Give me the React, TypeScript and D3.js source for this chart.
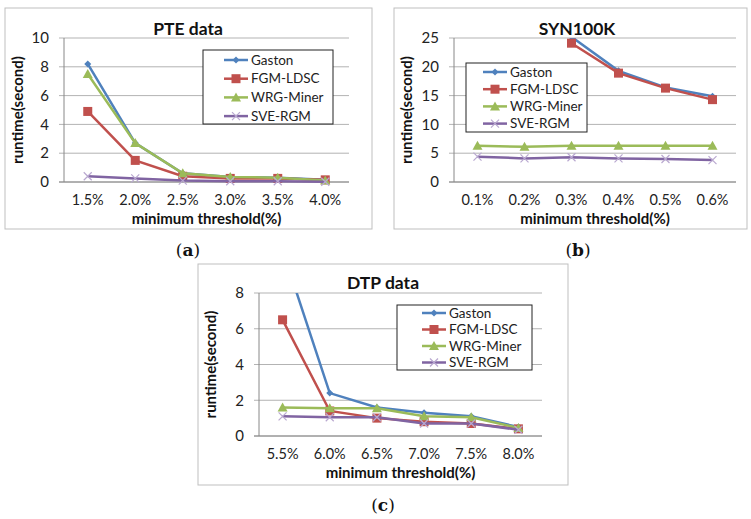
import React from "react";
import * as d3 from "d3";

const seriesNames = ["Gaston", "FGM-LDSC", "WRG-Miner", "SVE-RGM"];
const seriesColors = ["#4F81BD", "#C0504D", "#9BBB59", "#8064A2"];

const pteLabels = ["1.5%", "2.0%", "2.5%", "3.0%", "3.5%", "4.0%"];
const pteGaston = [8.2, 2.7, 0.6, 0.35, 0.3, 0.15];
const pteFgm = [4.9, 1.5, 0.4, 0.25, 0.25, 0.15];
const pteWrg = [7.5, 2.7, 0.6, 0.35, 0.3, 0.1];
const pteSve = [0.4, 0.25, 0.1, 0.05, 0.05, 0.02];
const pteTicks = [0, 2, 4, 6, 8, 10];

const synLabels = ["0.1%", "0.2%", "0.3%", "0.4%", "0.5%", "0.6%"];
const synGaston = [null, null, 25.2, 19.3, 16.4, 14.9];
const synFgm = [null, null, 24.1, 18.9, 16.3, 14.3];
const synWrg = [6.3, 6.1, 6.3, 6.3, 6.3, 6.3];
const synSve = [4.4, 4.1, 4.3, 4.1, 4.0, 3.8];
const synTicks = [0, 5, 10, 15, 20, 25];

const dtpLabels = ["5.5%", "6.0%", "6.5%", "7.0%", "7.5%", "8.0%"];
const dtpGaston = [10.4, 2.4, 1.6, 1.3, 1.1, 0.5];
const dtpFgm = [6.5, 1.4, 1.0, 0.8, 0.7, 0.4];
const dtpWrg = [1.6, 1.55, 1.55, 1.1, 1.05, 0.45];
const dtpSve = [1.1, 1.05, 1.05, 0.7, 0.7, 0.35];
const dtpTicks = [0, 2, 4, 6, 8];

const FONT = "Lato, 'Open Sans', sans-serif";

function Marker({ kind, x, y, color }) {
  if (kind === 0) {
    const s = 3.5;
    return <path d={`M${x},${y - s}L${x + s},${y}L${x},${y + s}L${x - s},${y}Z`} fill={color} />;
  }
  if (kind === 1) {
    return <rect x={x - 4.5} y={y - 4.5} width={9} height={9} fill={color} />;
  }
  if (kind === 2) {
    return <path d={`M${x},${y - 5}L${x + 5},${y + 4}L${x - 5},${y + 4}Z`} fill={color} />;
  }
  const s = 4;
  return (
    <path
      d={`M${x - s},${y - s}L${x + s},${y + s}M${x - s},${y + s}L${x + s},${y - s}`}
      stroke="#b9a8d0"
      strokeWidth={1.2}
    />
  );
}

function Panel({ id, box, plot, title, labels, series, ticks, legend }) {
  const x = d3.scalePoint().domain(labels).range([plot.left, plot.right]).padding(0.5);
  const y = d3
    .scaleLinear()
    .domain([0, ticks[ticks.length - 1]])
    .range([plot.bottom, plot.top]);
  const line = d3
    .line()
    .defined((d) => d[1] != null)
    .x((d) => x(d[0]))
    .y((d) => y(d[1]));
  const cx = (plot.left + plot.right) / 2;

  return (
    <g>
      <rect x={box.x} y={box.y} width={box.w} height={box.h} fill="#fff" stroke="#bfbfbf" strokeWidth={1} />
      <defs>
        <clipPath id={`clip-${id}`}>
          <rect x={plot.left - 6} y={plot.top} width={plot.right - plot.left + 12} height={plot.bottom - plot.top + 6} />
        </clipPath>
      </defs>
      {ticks.map((t) => (
        <g key={t}>
          <line x1={plot.left - 5} x2={plot.right} y1={y(t)} y2={y(t)} stroke="#b3b3b3" strokeWidth={1} />
          <text x={plot.left - 15} y={y(t)} dy="0.35em" textAnchor="end" fontSize={15} fill="#222" fontFamily={FONT}>
            {t}
          </text>
        </g>
      ))}
      <line x1={plot.left} x2={plot.left} y1={plot.top} y2={plot.bottom} stroke="#888" strokeWidth={1} />
      <line x1={plot.left - 5} x2={plot.right} y1={plot.bottom} y2={plot.bottom} stroke="#888" strokeWidth={1} />
      {labels.map((l) => (
        <text key={l} x={x(l)} y={plot.bottom + 23} textAnchor="middle" fontSize={14.5} fill="#222" fontFamily={FONT}>
          {l}
        </text>
      ))}
      <text x={cx} y={plot.bottom + 42} textAnchor="middle" fontSize={15} fontWeight="bold" fill="#111" fontFamily={FONT}>
        minimum threshold(%)
      </text>
      <text
        transform={`translate(${box.x + 18},${(plot.top + plot.bottom) / 2}) rotate(-90)`}
        textAnchor="middle"
        fontSize={15}
        fontWeight="bold"
        fill="#111"
        fontFamily={FONT}
      >
        runtime(second)
      </text>
      <text x={title.x} y={title.y} textAnchor="middle" fontSize={17.5} fontWeight="bold" fill="#111" fontFamily={FONT}>
        {title.text}
      </text>
      <g clipPath={`url(#clip-${id})`}>
        {series.map((vals, i) => {
          const pts = labels.map((l, j) => [l, vals[j]]);
          return (
            <g key={i}>
              <path d={line(pts)} fill="none" stroke={seriesColors[i]} strokeWidth={2.5} />
              {pts
                .filter((p) => p[1] != null)
                .map((p, j) => (
                  <Marker key={j} kind={i} x={x(p[0])} y={y(p[1])} color={seriesColors[i]} />
                ))}
            </g>
          );
        })}
      </g>
      <rect x={legend.x} y={legend.y} width={legend.w} height={legend.h} fill="#fff" stroke="#222" strokeWidth={1} />
      {seriesNames.map((n, i) => {
        const ly = legend.y + legend.first + i * legend.step;
        return (
          <g key={n}>
            <line x1={legend.lx} x2={legend.lx + 24} y1={ly} y2={ly} stroke={seriesColors[i]} strokeWidth={2.5} />
            <Marker kind={i} x={legend.lx + 12} y={ly} color={seriesColors[i]} />
            <text x={legend.lx + 27} y={ly} dy="0.35em" fontSize={13.5} fill="#222" fontFamily={FONT}>
              {n}
            </text>
          </g>
        );
      })}
    </g>
  );
}

function Caption({ x, y, letter }) {
  return (
    <text x={x} y={y} textAnchor="middle" fontSize={17} fontFamily="'DejaVu Serif', 'Liberation Serif', serif" fill="#111">
      (<tspan fontWeight="bold">{letter}</tspan>)
    </text>
  );
}

export default function App() {
  return (
    <svg width={751} height={519} style={{ position: "absolute", left: 0, top: 0, background: "#fff" }}>
      <rect width={751} height={519} fill="#fff" />
      <Panel
        id="a"
        box={{ x: 5, y: 8, w: 367, h: 221 }}
        plot={{ left: 64, right: 349, top: 38, bottom: 182 }}
        title={{ text: "PTE data", x: 188, y: 35 }}
        labels={pteLabels}
        series={[pteGaston, pteFgm, pteWrg, pteSve]}
        ticks={pteTicks}
        legend={{ x: 203, y: 50, w: 130, h: 74, lx: 224, first: 10, step: 18.7 }}
      />
      <Panel
        id="b"
        box={{ x: 394, y: 8, w: 353, h: 221 }}
        plot={{ left: 454, right: 736, top: 38, bottom: 182 }}
        title={{ text: "SYN100K", x: 577, y: 35 }}
        labels={synLabels}
        series={[synGaston, synFgm, synWrg, synSve]}
        ticks={synTicks}
        legend={{ x: 466, y: 63, w: 121, h: 69, lx: 483, first: 9, step: 17.2 }}
      />
      <Panel
        id="c"
        box={{ x: 198, y: 264, w: 370, h: 221 }}
        plot={{ left: 259, right: 542, top: 293, bottom: 436 }}
        title={{ text: "DTP data", x: 383, y: 289 }}
        labels={dtpLabels}
        series={[dtpGaston, dtpFgm, dtpWrg, dtpSve]}
        ticks={dtpTicks}
        legend={{ x: 397, y: 305, w: 135, h: 65, lx: 422, first: 8, step: 16.5 }}
      />
      <Caption x={188} y={256} letter="a" />
      <Caption x={578} y={256} letter="b" />
      <Caption x={383} y={511} letter="c" />
    </svg>
  );
}
